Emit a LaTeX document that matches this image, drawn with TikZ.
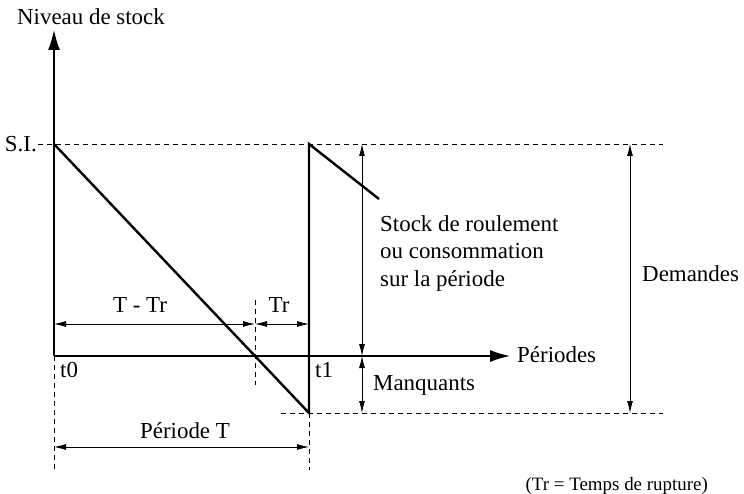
\documentclass[tikz,border=0pt]{standalone}
\usepackage{fontspec}
\setmainfont{Liberation Serif}
\usetikzlibrary{arrows.meta,positioning}
\tikzset{
  axis/.style={line width=1.4bp, -{Latex[length=20bp,width=12bp]}},
  saw/.style={line width=2.4bp, line join=miter},
  guide/.style={line width=0.8bp, dash pattern=on 5bp off 4bp},
  dim/.style={line width=0.8bp, {Latex[length=12bp,width=6bp]}-{Latex[length=12bp,width=6bp]}},
  lbl/.style={font=\fontsize{23}{28}\selectfont, inner sep=0pt}
}

\begin{document}
\begin{tikzpicture}[x=1bp,y=-1bp]
  \useasboundingbox (0,0) rectangle (744,494);

  % axes
  \coordinate (orig) at (54,356);
  \coordinate (ytip) at (54,30);
  \coordinate (xtip) at (510,356);
  \draw[axis] (orig) -- (ytip);
  \draw[axis] (orig) -- (xtip);

  % stock curve
  \coordinate (si) at (54,144);
  \coordinate (cross) at (255,356);
  \coordinate (low) at (309,413);
  \coordinate (peak) at (309,144);
  \coordinate (tail) at (379,199);
  \draw[saw] (si) -- (low) -- (peak) -- (tail);

  % guides
  \coordinate (si-l) at (38,144);
  \coordinate (si-r) at (663,144);
  \coordinate (low-l) at (281,413);
  \coordinate (low-r) at (663,413);
  \coordinate (t0-b) at (54,470);
  \coordinate (t1-b) at (309,470);
  \coordinate (cr-t) at (255,300);
  \coordinate (cr-b) at (255,385);
  \draw[guide] (si-l) -- (si-r);
  \draw[guide] (low-l) -- (low-r);
  \draw[guide] (orig) -- (t0-b);
  \draw[guide] (low) -- (t1-b);
  \draw[guide] (cr-t) -- (cr-b);

  % dimensions
  \coordinate (a1) at (54,324);
  \coordinate (a2) at (255,324);
  \coordinate (a3) at (309,324);
  \coordinate (p1) at (54,447);
  \coordinate (p2) at (309,447);
  \coordinate (r1) at (362,144);
  \coordinate (r2) at (362,356);
  \coordinate (r3) at (362,413);
  \coordinate (d1) at (630,144);
  \coordinate (d2) at (630,413);
  \draw[dim] (a1) -- (a2);
  \draw[dim] (a2) -- (a3);
  \draw[dim] (p1) -- (p2);
  \draw[dim] (r1) -- (r2);
  \draw[dim] (r2) -- (r3);
  \draw[dim] (d1) -- (d2);

  % labels
  \node[lbl] (niveau) at (91,17) {Niveau de stock};
  \node[lbl, anchor=east] (silbl) at (37,144) {S.I.};
  \node[lbl, anchor=base] (ttr) at (140,312) {T - Tr};
  \node[lbl, anchor=base] (tr) at (279,312) {Tr};
  \node[lbl, anchor=base west] (t0) at (60,377) {t0};
  \node[lbl, anchor=base west] (t1) at (315,377) {t1};
  \node[lbl, anchor=base] (per) at (185,438) {Période T};
  \node[lbl, anchor=north west, align=left] (roul) at (380,215)
    {Stock de roulement\\ou consommation\\sur la période};
  \node[lbl, anchor=base west] (manq) at (373,390) {Manquants};
  \node[lbl, anchor=base west] (perx) at (517,362) {Périodes};
  \node[lbl, anchor=base west] (dem) at (642,282) {Demandes};
  \node[lbl, font=\fontsize{19}{22}\selectfont, anchor=base east] (note) at (708,490) {(Tr = Temps de rupture)};
\end{tikzpicture}
\end{document}
